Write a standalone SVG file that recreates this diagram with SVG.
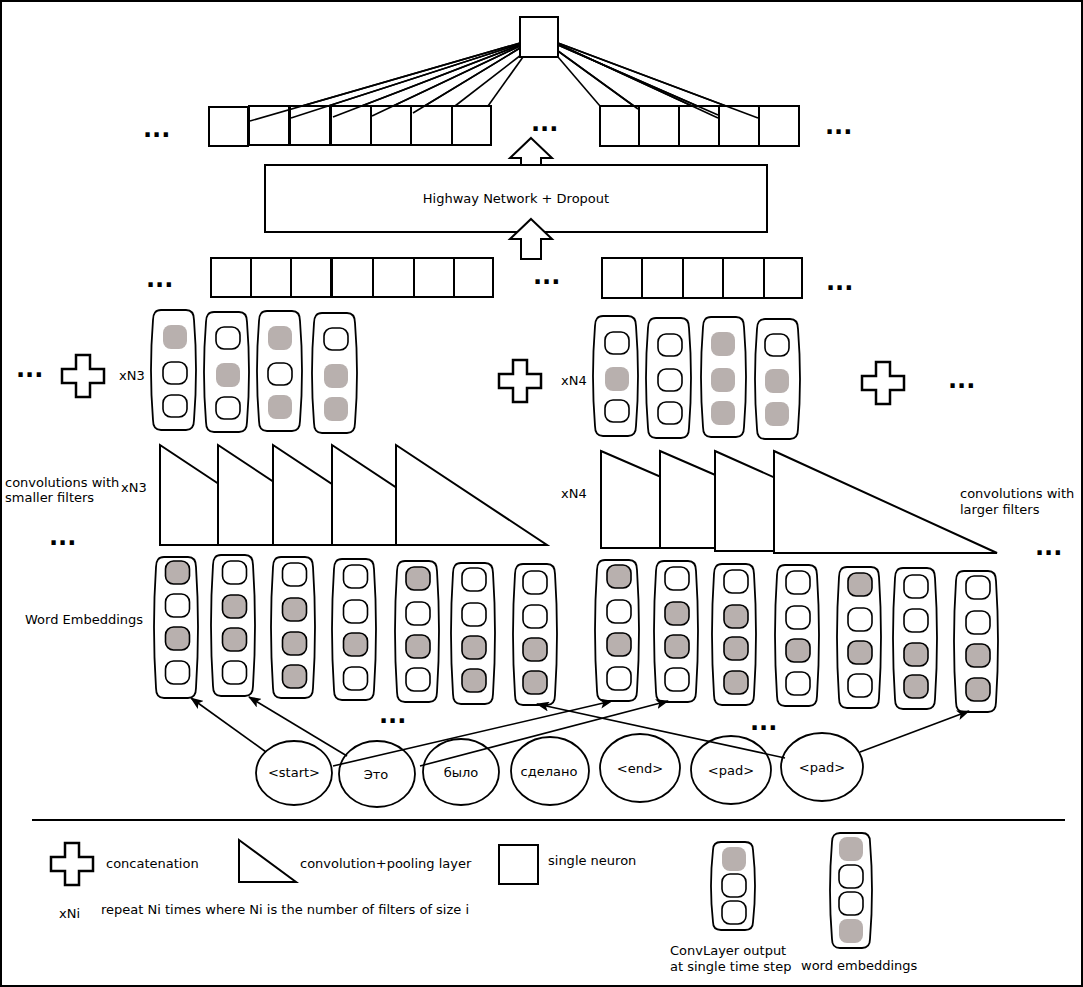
<svg xmlns="http://www.w3.org/2000/svg" xmlns:xlink="http://www.w3.org/1999/xlink" width="1083" height="987" viewBox="0 0 1083 987">
<style>
text{font-family:"DejaVu Sans","Liberation Sans",sans-serif;font-size:13px;fill:#000}
.dots{font-weight:bold;font-size:24px}
.b{fill:#fff;stroke:#000;stroke-width:2}
.cap{fill:#fff;stroke:#000;stroke-width:1.8}
.w{fill:#fff;stroke:#000;stroke-width:1.6}
.g{fill:#b8b0ae;stroke:none}
.gb{fill:#b8b0ae;stroke:#000;stroke-width:1.6}
.ln{fill:none;stroke:#000;stroke-width:1.6}
.arr{fill:none;stroke:#000;stroke-width:1.6;marker-end:url(#ah)}
.plus{fill:#fff;stroke:#000;stroke-width:2.5}
.tri{fill:#fff;stroke:#000;stroke-width:2}
.ell{fill:#fff;stroke:#000;stroke-width:1.8}
</style>
<defs>
<marker id="ah" viewBox="0 0 13 10" refX="12" refY="5" markerWidth="13" markerHeight="10" markerUnits="userSpaceOnUse" orient="auto">
<path d="M0,0 L13,5 L0,10 L3,5 Z" fill="#000"/>
</marker>
<path id="capC" d="M8,0 H33 Q41,0 41,10 Q45,60 41,110 Q41,120 33,120 H8 Q0,120 0,110 Q-4,60 0,10 Q0,0 8,0 Z"/>
<path id="capW" d="M8,0 H32 Q40,0 40,10 Q44,70 40,131 Q40,141 32,141 H8 Q0,141 0,131 Q-4,70 0,10 Q0,0 8,0 Z"/>
<path id="plusP" d="M-7,-21 H7 V-7 H21 V7 H7 V21 H-7 V7 H-21 V-7 H-7 Z"/>
<path id="upArr" d="M0,0 L21,20 H10 V40 H-10 V20 H-21 Z"/>
</defs>

<rect x="1" y="1" width="1081" height="985" fill="#fff" stroke="#000" stroke-width="2"/>

<!-- connectors -->
<g id="connectors">
<g id="neuron-lines">
<line class="ln" x1="520" y1="43" x2="250" y2="121"/>
<line class="ln" x1="520" y1="44" x2="291" y2="118"/>
<line class="ln" x1="520" y1="45" x2="333" y2="117"/>
<line class="ln" x1="520" y1="46" x2="372" y2="116"/>
<line class="ln" x1="520" y1="48" x2="413" y2="113"/>
<line class="ln" x1="521" y1="55" x2="455" y2="106"/>
<line class="ln" x1="523" y1="57" x2="488" y2="106"/>
<line class="ln" x1="558" y1="57" x2="600" y2="106"/>
<line class="ln" x1="558" y1="51" x2="638" y2="109"/>
<line class="ln" x1="558" y1="45" x2="718" y2="115"/>
<line class="ln" x1="558" y1="44" x2="718" y2="118"/>
<line class="ln" x1="558" y1="43" x2="758" y2="118"/>
</g>
</g>

<!-- top neuron -->
<g id="neuron-top"><rect class="b" x="520" y="17" width="38" height="40"/></g>

<!-- top row -->
<g id="row-top-left">
<rect class="b" x="209" y="107" width="39" height="39"/>
<rect class="b" x="249" y="106" width="40" height="39"/>
<rect class="b" x="290" y="106" width="40" height="39"/>
<rect class="b" x="331" y="106" width="40" height="39"/>
<rect class="b" x="371" y="106" width="40" height="39"/>
<rect class="b" x="411" y="106" width="41" height="39"/>
<rect class="b" x="452" y="106" width="39" height="39"/>
</g>
<g id="row-top-right">
<rect class="b" x="600" y="106" width="39" height="40"/>
<rect class="b" x="639" y="106" width="40" height="40"/>
<rect class="b" x="679" y="106" width="40" height="40"/>
<rect class="b" x="719" y="106" width="40" height="40"/>
<rect class="b" x="759" y="106" width="40" height="40"/>
</g>
<g id="neuron-lines-over">
<line class="ln" x1="520" y1="43" x2="250" y2="121"/>
<line class="ln" x1="520" y1="44" x2="291" y2="118"/>
<line class="ln" x1="520" y1="45" x2="333" y2="117"/>
<line class="ln" x1="520" y1="46" x2="372" y2="116"/>
<line class="ln" x1="520" y1="48" x2="413" y2="113"/>
<line class="ln" x1="558" y1="51" x2="638" y2="109"/>
<line class="ln" x1="558" y1="45" x2="718" y2="115"/>
<line class="ln" x1="558" y1="44" x2="718" y2="118"/>
<line class="ln" x1="558" y1="43" x2="758" y2="118"/>
</g>
<text class="dots" x="143" y="137">...</text>
<text class="dots" x="531" y="131">...</text>
<text class="dots" x="825" y="134">...</text>

<g id="arrow-up-1"><use xlink:href="#upArr" x="531" y="138" class="b"/></g>
<g id="highway">
<rect class="b" x="265" y="165" width="502" height="67"/>
<text x="516" y="203" text-anchor="middle">Highway Network + Dropout</text>
</g>
<g id="arrow-up-2"><use xlink:href="#upArr" x="531" y="219" class="b"/></g>

<!-- second row -->
<g id="row-2-left">
<rect class="b" x="211" y="258" width="40" height="39"/>
<rect class="b" x="251" y="258" width="40" height="39"/>
<rect class="b" x="291" y="258" width="40" height="39"/>
<rect class="b" x="332" y="258" width="41" height="39"/>
<rect class="b" x="373" y="258" width="41" height="39"/>
<rect class="b" x="414" y="258" width="40" height="39"/>
<rect class="b" x="454" y="258" width="39" height="39"/>
</g>
<g id="row-2-right">
<rect class="b" x="602" y="258" width="40" height="40"/>
<rect class="b" x="642" y="258" width="41" height="40"/>
<rect class="b" x="683" y="258" width="40" height="40"/>
<rect class="b" x="723" y="258" width="41" height="40"/>
<rect class="b" x="764" y="258" width="38" height="40"/>
</g>
<text class="dots" x="146" y="287">...</text>
<text class="dots" x="533" y="284">...</text>
<text class="dots" x="826" y="290">...</text>

<!-- conv outputs -->
<g id="plus-1"><use xlink:href="#plusP" x="83" y="376" class="plus"/></g>
<g id="plus-2"><use xlink:href="#plusP" x="520" y="381" class="plus"/></g>
<g id="plus-3"><use xlink:href="#plusP" x="883" y="383" class="plus"/></g>
<text class="dots" x="16" y="377">...</text>
<text class="dots" x="948" y="388">...</text>
<text x="119" y="380">xN3</text>
<text x="561" y="385">xN4</text>

<g id="conv-out-L1" transform="translate(153,310)"><use xlink:href="#capC" class="cap"/><rect class="g" x="10" y="15" width="24" height="24" rx="8"/><rect class="w" x="10" y="52" width="24" height="22" rx="8"/><rect class="w" x="10" y="85" width="24" height="22" rx="8"/></g>
<g id="conv-out-L2" transform="translate(206,312)"><use xlink:href="#capC" class="cap"/><rect class="w" x="10" y="15" width="24" height="22" rx="8"/><rect class="g" x="10" y="51" width="24" height="24" rx="8"/><rect class="w" x="10" y="85" width="24" height="22" rx="8"/></g>
<g id="conv-out-L3" transform="translate(259,311)"><use xlink:href="#capC" class="cap"/><rect class="g" x="9" y="15" width="24" height="24" rx="8"/><rect class="w" x="9" y="52" width="24" height="22" rx="8"/><rect class="g" x="9" y="84" width="24" height="24" rx="8"/></g>
<g id="conv-out-L4" transform="translate(314,313)"><use xlink:href="#capC" class="cap"/><rect class="w" x="10" y="15" width="24" height="22" rx="8"/><rect class="g" x="10" y="51" width="24" height="24" rx="8"/><rect class="g" x="10" y="84" width="24" height="24" rx="8"/></g>

<g id="conv-out-R1" transform="translate(595,316)"><use xlink:href="#capC" class="cap"/><rect class="w" x="10" y="16" width="24" height="22" rx="8"/><rect class="g" x="10" y="51" width="24" height="24" rx="8"/><rect class="w" x="10" y="84" width="24" height="22" rx="8"/></g>
<g id="conv-out-R2" transform="translate(648,318)"><use xlink:href="#capC" class="cap"/><rect class="w" x="10" y="16" width="24" height="22" rx="8"/><rect class="w" x="10" y="51" width="24" height="22" rx="8"/><rect class="w" x="10" y="84" width="24" height="22" rx="8"/></g>
<g id="conv-out-R3" transform="translate(703,317)"><use xlink:href="#capC" class="cap"/><rect class="g" x="8" y="15" width="24" height="24" rx="8"/><rect class="g" x="8" y="51" width="24" height="24" rx="8"/><rect class="g" x="8" y="84" width="24" height="24" rx="8"/></g>
<g id="conv-out-R4" transform="translate(757,319)"><use xlink:href="#capC" class="cap"/><rect class="w" x="8" y="15" width="24" height="22" rx="8"/><rect class="g" x="8" y="50" width="24" height="24" rx="8"/><rect class="g" x="8" y="83" width="24" height="24" rx="8"/></g>

<!-- conv layers -->
<g id="conv-left">
<path class="tri" d="M160,445 L311,545 L160,545 Z"/>
<path class="tri" d="M218,445 L369,545 L218,545 Z"/>
<path class="tri" d="M273,445 L424,545 L273,545 Z"/>
<path class="tri" d="M332,445 L483,545 L332,545 Z"/>
<path class="tri" d="M396,445 L547,545 L396,545 Z"/>
</g>
<g id="conv-right">
<path class="tri" d="M601,451 L825,548 L601,548 Z"/>
<path class="tri" d="M660,451 L884,548 L660,548 Z"/>
<path class="tri" d="M715,451 L939,551 L715,551 Z"/>
<path class="tri" d="M774,451 L997,553 L774,553 Z"/>
</g>
<text x="5" y="487">convolutions with</text>
<text x="5" y="502">smaller filters</text>
<text x="121" y="492">xN3</text>
<text x="561" y="498">xN4</text>
<text x="960" y="498">convolutions with</text>
<text x="960" y="514">larger filters</text>
<text class="dots" x="49" y="545">...</text>
<text class="dots" x="1035" y="555">...</text>

<!-- word embeddings -->
<text x="25" y="624">Word Embeddings</text>
<g id="we-L1" transform="translate(156,557)"><use xlink:href="#capW" class="cap"/><rect class="gb" x="9.5" y="4" width="24" height="23" rx="8"/><rect class="w" x="9.5" y="37" width="24" height="23" rx="8"/><rect class="gb" x="9.5" y="70" width="24" height="23" rx="8"/><rect class="w" x="9.5" y="104" width="24" height="23" rx="8"/></g>
<g id="we-L2" transform="translate(213,555)"><use xlink:href="#capW" class="cap"/><rect class="w" x="9.5" y="6" width="24" height="23" rx="8"/><rect class="gb" x="9.5" y="40" width="24" height="23" rx="8"/><rect class="gb" x="9.5" y="73" width="24" height="23" rx="8"/><rect class="w" x="9.5" y="106" width="24" height="23" rx="8"/></g>
<g id="we-L3" transform="translate(273,557)"><use xlink:href="#capW" class="cap"/><rect class="w" x="9.5" y="6" width="24" height="23" rx="8"/><rect class="gb" x="9.5" y="41" width="24" height="23" rx="8"/><rect class="gb" x="9.5" y="75" width="24" height="23" rx="8"/><rect class="gb" x="9.5" y="108" width="24" height="23" rx="8"/></g>
<g id="we-L4" transform="translate(334,559)"><use xlink:href="#capW" class="cap"/><rect class="w" x="9.5" y="6" width="24" height="23" rx="8"/><rect class="w" x="9.5" y="41" width="24" height="23" rx="8"/><rect class="gb" x="9.5" y="74" width="24" height="23" rx="8"/><rect class="w" x="9.5" y="108" width="24" height="23" rx="8"/></g>
<g id="we-L5" transform="translate(397,561)"><use xlink:href="#capW" class="cap"/><rect class="gb" x="9" y="6" width="24" height="23" rx="8"/><rect class="w" x="9" y="41" width="24" height="23" rx="8"/><rect class="gb" x="9" y="74" width="24" height="23" rx="8"/><rect class="w" x="9" y="107" width="24" height="23" rx="8"/></g>
<g id="we-L6" transform="translate(453,563)"><use xlink:href="#capW" class="cap"/><rect class="w" x="9" y="5" width="24" height="23" rx="8"/><rect class="w" x="9" y="40" width="24" height="23" rx="8"/><rect class="gb" x="9" y="73" width="24" height="23" rx="8"/><rect class="gb" x="9" y="106" width="24" height="23" rx="8"/></g>
<g id="we-L7" transform="translate(515,564)"><use xlink:href="#capW" class="cap"/><rect class="w" x="8" y="7" width="24" height="23" rx="8"/><rect class="w" x="8" y="41" width="24" height="23" rx="8"/><rect class="gb" x="8" y="74" width="24" height="23" rx="8"/><rect class="gb" x="8" y="107" width="24" height="23" rx="8"/></g>

<g id="we-R1" transform="translate(597,560)"><use xlink:href="#capW" class="cap"/><rect class="gb" x="10" y="5" width="24" height="23" rx="8"/><rect class="w" x="10" y="40" width="24" height="23" rx="8"/><rect class="gb" x="10" y="73" width="24" height="23" rx="8"/><rect class="w" x="10" y="107" width="24" height="23" rx="8"/></g>
<g id="we-R2" transform="translate(656,561)"><use xlink:href="#capW" class="cap"/><rect class="w" x="9" y="6" width="24" height="23" rx="8"/><rect class="gb" x="9" y="41" width="24" height="23" rx="8"/><rect class="gb" x="9" y="74" width="24" height="23" rx="8"/><rect class="w" x="9" y="107" width="24" height="23" rx="8"/></g>
<g id="we-R3" transform="translate(714,564)"><use xlink:href="#capW" class="cap"/><rect class="w" x="10" y="6" width="24" height="23" rx="8"/><rect class="gb" x="10" y="41" width="24" height="23" rx="8"/><rect class="gb" x="10" y="73" width="24" height="23" rx="8"/><rect class="gb" x="10" y="107" width="24" height="23" rx="8"/></g>
<g id="we-R4" transform="translate(777,565)"><use xlink:href="#capW" class="cap"/><rect class="w" x="9" y="6" width="24" height="23" rx="8"/><rect class="w" x="9" y="41" width="24" height="23" rx="8"/><rect class="gb" x="9" y="74" width="24" height="23" rx="8"/><rect class="w" x="9" y="107" width="24" height="23" rx="8"/></g>
<g id="we-R5" transform="translate(839,567)"><use xlink:href="#capW" class="cap"/><rect class="gb" x="9" y="6" width="24" height="23" rx="8"/><rect class="w" x="9" y="41" width="24" height="23" rx="8"/><rect class="gb" x="9" y="74" width="24" height="23" rx="8"/><rect class="w" x="9" y="107" width="24" height="23" rx="8"/></g>
<g id="we-R6" transform="translate(895,568)"><use xlink:href="#capW" class="cap"/><rect class="w" x="9" y="7" width="24" height="23" rx="8"/><rect class="w" x="9" y="41" width="24" height="23" rx="8"/><rect class="gb" x="9" y="75" width="24" height="23" rx="8"/><rect class="gb" x="9" y="107" width="24" height="23" rx="8"/></g>
<g id="we-R7" transform="translate(956,571)"><use xlink:href="#capW" class="cap"/><rect class="w" x="10" y="5" width="24" height="23" rx="8"/><rect class="w" x="10" y="40" width="24" height="23" rx="8"/><rect class="gb" x="10" y="73" width="24" height="23" rx="8"/><rect class="gb" x="10" y="107" width="24" height="23" rx="8"/></g>
<text class="dots" x="379" y="723">...</text>
<text class="dots" x="750" y="730">...</text>

<!-- tokens -->
<g id="tok-start"><ellipse class="ell" cx="294" cy="773" rx="38" ry="32"/><text x="294" y="777" text-anchor="middle" font-size="12">&lt;start&gt;</text></g>
<g id="tok-eto"><ellipse class="ell" cx="377" cy="774" rx="38" ry="33"/><text x="376" y="779" text-anchor="middle" font-size="12">Это</text></g>
<g id="tok-bylo"><ellipse class="ell" cx="461" cy="772" rx="38" ry="33"/><text x="461" y="777" text-anchor="middle" font-size="12">было</text></g>
<g id="tok-sdelano"><ellipse class="ell" cx="550" cy="771" rx="39" ry="34"/><text x="549" y="776" text-anchor="middle" font-size="12">сделано</text></g>
<g id="tok-end"><ellipse class="ell" cx="640" cy="768" rx="40" ry="34"/><text x="640" y="773" text-anchor="middle" font-size="12">&lt;end&gt;</text></g>
<g id="tok-pad1"><ellipse class="ell" cx="731" cy="770" rx="40" ry="34"/><text x="731" y="775" text-anchor="middle" font-size="12">&lt;pad&gt;</text></g>
<g id="tok-pad2"><ellipse class="ell" cx="822" cy="767" rx="41" ry="34"/><text x="822" y="772" text-anchor="middle" font-size="12">&lt;pad&gt;</text></g>

<g id="token-arrows">
<line class="arr" x1="266" y1="752" x2="191" y2="698"/>
<line class="arr" x1="347" y1="756" x2="249" y2="697"/>
<line class="arr" x1="333" y1="766" x2="612" y2="701"/>
<line class="arr" x1="420" y1="766" x2="668" y2="701"/>
<line class="arr" x1="785" y1="758" x2="537" y2="704"/>
<line class="arr" x1="860" y1="752" x2="969" y2="711"/>
</g>

<!-- legend -->
<line x1="32" y1="820" x2="1065" y2="820" stroke="#000" stroke-width="2"/>
<g id="legend-plus"><use xlink:href="#plusP" x="72" y="864" class="plus"/><text x="106" y="868">concatenation</text></g>
<g id="legend-tri"><path class="tri" d="M239,840 L296,882 L239,882 Z"/><text x="300" y="868">convolution+pooling layer</text></g>
<g id="legend-neuron"><rect class="b" x="499" y="845" width="39" height="39"/><text x="548" y="865">single neuron</text></g>
<g id="legend-xni"><text x="59" y="918">xNi</text><text x="101" y="914">repeat Ni times where Ni is the number of filters of size i</text></g>
<g id="legend-convout" transform="translate(713,842)">
<path class="cap" d="M8,0 H32 Q40,0 40,8 Q44,44 40,80 Q40,88 32,88 H8 Q0,88 0,80 Q-4,44 0,8 Q0,0 8,0 Z"/>
<rect class="g" x="9" y="5" width="24" height="24" rx="8"/><rect class="w" x="9" y="32" width="24" height="23" rx="8"/><rect class="w" x="9" y="59" width="24" height="23" rx="8"/>
</g>
<text x="670" y="955">ConvLayer output</text>
<text x="670" y="971">at single time step</text>
<g id="legend-we" transform="translate(832,833)">
<path class="cap" d="M8,0 H30 Q38,0 38,9 Q42,57 38,106 Q38,115 30,115 H8 Q0,115 0,106 Q-4,57 0,9 Q0,0 8,0 Z"/>
<rect class="g" x="7" y="4" width="24" height="24" rx="8"/><rect class="w" x="7" y="32" width="24" height="23" rx="8"/><rect class="w" x="7" y="59" width="24" height="23" rx="8"/><rect class="g" x="7" y="86" width="24" height="24" rx="8"/>
</g>
<text x="801" y="970">word embeddings</text>
</svg>
